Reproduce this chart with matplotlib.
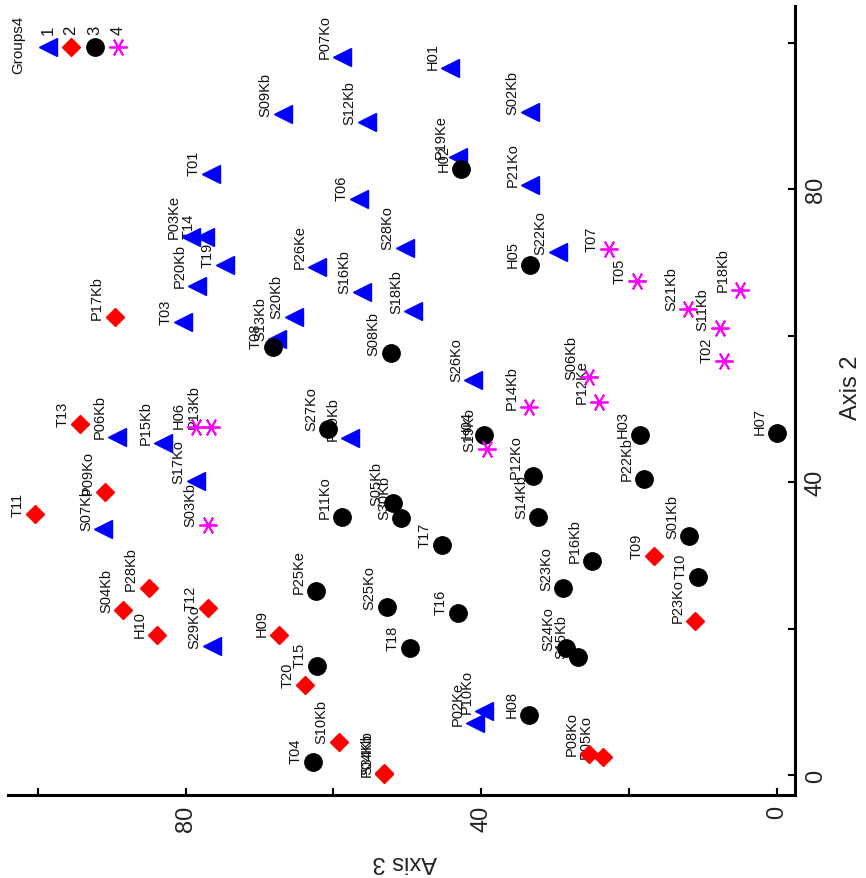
import matplotlib
matplotlib.use("Agg")
import matplotlib.pyplot as plt

plt.rcParams['font.family'] = ['Liberation Sans', 'DejaVu Sans']

# ---- data: (Axis 3, Axis 2) per group ----
g1_names = ["S09Kb", "T01", "P03Ke", "T14", "T19", "P20Kb", "P07Ko", "H01", "S12Kb", "S02Kb",
            "P19Ke", "P21Ko", "T06", "S28Ko", "S22Ko", "P26Ke", "S16Kb", "S18Kb", "T03", "S20Kb",
            "S13Kb", "P06Kb", "P15Kb", "S17Ko", "S07Kb", "S26Ko", "P29Kb", "S29Ko", "P02Ke", "P10Ko"]
g1_axis3 = [66.8, 76.5, 79.3, 77.3, 74.7, 78.5, 58.8, 44.2, 55.5, 33.4,
            43.1, 33.4, 56.6, 50.3, 29.7, 62.2, 56.2, 49.2, 80.4, 65.4,
            67.6, 89.2, 83.0, 78.6, 91.1, 41.1, 57.8, 76.4, 40.8, 39.6]
g1_axis2 = [90.2, 82.1, 73.5, 73.5, 69.6, 66.8, 98.1, 96.6, 89.1, 90.5,
            84.4, 80.6, 78.7, 72.0, 71.4, 69.4, 66.0, 63.3, 61.8, 62.6,
            59.6, 46.2, 45.4, 40.1, 33.6, 54.0, 46.0, 17.6, 7.1, 8.7]

g2_names = ["P17Kb", "T13", "P09Ko", "T11", "P28Kb", "S04Kb", "H10", "T12", "H09", "T20",
            "S10Kb", "P04Kb", "S34Kb", "T09", "P23Ko", "P08Ko", "P05Ko"]
g2_axis3 = [89.6, 94.3, 90.9, 100.3, 85.0, 88.4, 83.8, 76.9, 67.4, 63.9,
            59.3, 53.2, 53.1, 16.6, 11.1, 25.4, 23.5]
g2_axis2 = [62.5, 47.9, 38.6, 35.6, 25.5, 22.5, 19.1, 22.8, 19.2, 12.3,
            4.6, 0.1, 0.3, 29.9, 21.1, 2.9, 2.5]

g3_names = ["H02", "H05", "T08", "S08Kb", "S27Ko", "H04", "P12Ko", "S14Kb", "P11Ko", "S05Kb",
            "S30Kb", "T17", "H03", "P22Kb", "H07", "S01Kb", "P16Kb", "T10", "P25Ke", "S25Ko",
            "T16", "T18", "T15", "T04", "H08", "S23Ko", "S24Ko", "S15Kb"]
g3_axis3 = [42.8, 33.4, 68.2, 52.2, 60.7, 39.6, 33.0, 32.3, 58.8, 51.9,
            50.8, 45.3, 18.6, 18.0, 0.0, 11.9, 25.0, 10.7, 62.4, 52.8,
            43.2, 49.7, 62.2, 62.8, 33.5, 28.9, 28.6, 26.9]
g3_axis2 = [82.7, 69.6, 58.5, 57.6, 47.3, 46.4, 40.8, 35.3, 35.3, 37.1,
            35.1, 31.4, 46.4, 40.5, 46.7, 32.6, 29.3, 27.1, 25.1, 22.9,
            22.2, 17.3, 14.9, 1.8, 8.2, 25.5, 17.3, 16.2]

g4_names = ["H06", "P13Kb", "S03Kb", "S19Ko", "P14Kb", "S06Kb", "P12Ke", "T07", "T05", "P18Kb",
            "S21Kb", "S11Kb", "T02"]
g4_axis3 = [78.6, 76.6, 77.0, 39.3, 33.6, 25.5, 24.1, 22.8, 18.9, 5.0,
            12.0, 7.8, 7.2]
g4_axis2 = [47.6, 47.6, 34.2, 44.5, 50.2, 54.3, 51.0, 71.8, 67.4, 66.3,
            63.7, 61.0, 56.6]

group_labels = ["1", "2", "3", "4"]
legend_title = "Groups4"
tick_vals = [0, 20, 40, 60, 80, 100]
tick_text = ["0", "", "40", "", "80", ""]

groups = [
    (g1_names, g1_axis3, g1_axis2, dict(marker='<', color='#0000FF', ms=12.5, ls='none')),
    (g2_names, g2_axis3, g2_axis2, dict(marker='D', color='#FF0000', ms=9, ls='none')),
    (g3_names, g3_axis3, g3_axis2, dict(marker='o', color='#000000', ms=12.5, ls='none')),
    (g4_names, g4_axis3, g4_axis2, dict(marker=(6, 2, 90), color='#FF00FF', ms=13, mew=1.3, ls='none')),
]

W, H = 866, 879
fig = plt.figure(figsize=(W / 100, H / 100), dpi=100)
ax = fig.add_axes([8 / W, 1 - 796 / H, (795 - 8) / W, (796 - 7) / H])

for names, a3, a2, style in groups:
    ax.plot(a3, a2, zorder=3, **style)
    for n, x, y in zip(names, a3, a2):
        ax.annotate(n, (x, y), xytext=(-12.5, -1), textcoords='offset points',
                    rotation=90, ha='center', va='bottom', fontsize=10.5,
                    color='#111111', zorder=2)

ax.set_xlim(104, -2.4)
ax.set_ylim(-2.7, 105)

for s in ['top', 'left']:
    ax.spines[s].set_visible(False)
for s in ['bottom', 'right']:
    ax.spines[s].set_linewidth(2.2)

ax.yaxis.tick_right()
ax.yaxis.set_label_position('right')
ax.set_xticks(tick_vals)
ax.set_xticklabels(tick_text)
ax.set_yticks(tick_vals)
ax.set_yticklabels(tick_text)
ax.tick_params(axis='both', direction='in', length=5, width=1.5, labelsize=17,
               labelcolor='#222222', pad=7)
for lab in ax.get_xticklabels():
    lab.set_rotation(90)
    lab.set_ha('center')
    lab.set_va('top')
for lab in ax.get_yticklabels():
    lab.set_rotation(90)
    lab.set_ha('left')
    lab.set_va('center')

ax.set_xlabel("Axis 3", fontsize=17, rotation=180, color='#222222')
ax.set_ylabel("Axis 2", fontsize=17, rotation=90, color='#222222')
ax.xaxis.set_label_coords((405 - 8) / 787, (796 - 862) / 789)
ax.yaxis.set_label_coords((851 - 8) / 787, (796 - 388) / 789)
ax.xaxis.label.set_va('center')
ax.yaxis.label.set_va('center')
ax.yaxis.label.set_ha('center')

# manual rotated legend (axes fraction coordinates)
def fx(px):
    return (px - 8) / 787

def fy(py):
    return (796 - py) / 789

leg_x = [48, 71, 95, 118]
for (names, a3, a2, style), lx, gl in zip(groups, leg_x, group_labels):
    ax.plot([fx(lx)], [fy(48)], transform=ax.transAxes, clip_on=False, zorder=3, **style)
    ax.text(fx(lx), fy(30), gl, transform=ax.transAxes, rotation=90,
            ha='center', va='center', fontsize=12, color='#111111')
ax.text(fx(18), fy(45), legend_title, transform=ax.transAxes, rotation=90,
        ha='center', va='center', fontsize=11, color='#111111')

fig.savefig("out.png", dpi=100)
